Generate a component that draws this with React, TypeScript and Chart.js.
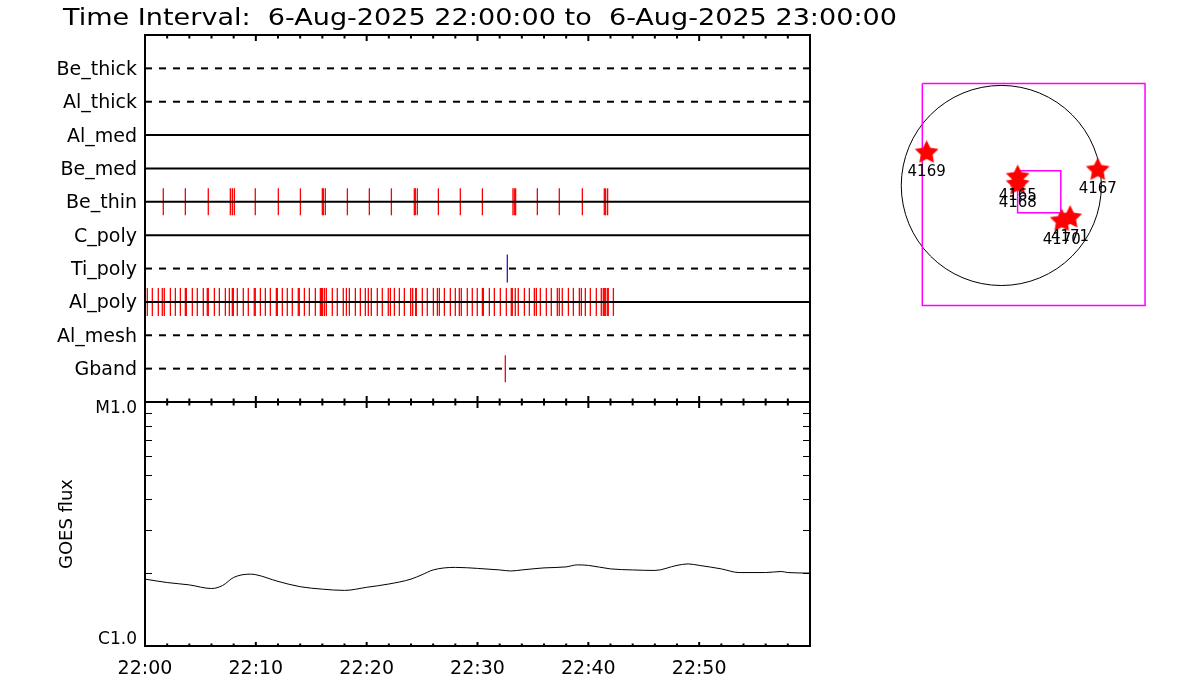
import React, { useEffect, useRef } from 'react';
import { Chart, registerables } from 'chart.js';

Chart.register(...registerables);

const FONT = '"DejaVu Sans", sans-serif';

// ---------- data ----------
const titleText = 'Time Interval:  6-Aug-2025 22:00:00 to  6-Aug-2025 23:00:00';

const filterNames = ['Be_thick', 'Al_thick', 'Al_med', 'Be_med', 'Be_thin', 'C_poly', 'Ti_poly', 'Al_poly', 'Al_mesh', 'Gband'];
const filterDashed = [true, true, false, false, false, false, true, false, true, true];

// event times in minutes after 22:00
const beThinTimes = [1.65, 3.64, 5.71, 7.70, 7.88, 8.06, 9.95, 12.03, 14.02, 16.0, 16.09, 16.27, 18.26, 20.24, 22.23, 24.30, 24.39, 24.57, 26.47, 28.45, 30.44, 33.20, 33.32, 33.44, 35.40, 37.38, 39.46, 41.44, 41.56, 41.74];
const alPolyTimes = [0.21, 0.66, 1.20, 1.56, 1.74, 2.29, 2.74, 3.19, 3.64, 3.73, 4.27, 4.72, 5.26, 5.62, 5.71, 6.26, 6.71, 7.25, 7.61, 7.88, 7.97, 8.33, 8.87, 9.32, 9.86, 9.95, 10.41, 10.86, 11.31, 11.85, 11.94, 12.39, 12.84, 13.29, 13.83, 13.92, 14.38, 14.83, 15.37, 15.82, 15.91, 16.00, 16.18, 16.36, 16.90, 17.35, 17.89, 18.17, 18.44, 18.98, 19.43, 19.88, 20.15, 20.42, 20.96, 21.41, 21.95, 22.14, 22.50, 22.95, 23.40, 23.97, 24.15, 24.42, 24.48, 25.02, 25.47, 26.02, 26.38, 26.56, 27.01, 27.55, 28.00, 28.36, 28.54, 29.08, 29.53, 29.98, 30.44, 30.53, 31.07, 31.52, 32.06, 32.60, 33.05, 33.14, 33.41, 33.68, 34.23, 34.68, 35.13, 35.31, 35.67, 36.21, 36.66, 37.20, 37.38, 37.65, 38.20, 38.65, 39.19, 39.37, 39.73, 40.18, 40.72, 41.17, 41.35, 41.44, 41.53, 41.71, 41.80, 42.26];
const tiPolyTimes = [32.69];
const gbandTimes = [32.51];

const minuteTicks = [0, 2, 4, 6, 8, 10, 12, 14, 16, 18, 20, 22, 24, 26, 28, 30, 32, 34, 36, 38, 40, 42, 44, 46, 48, 50, 52, 54, 56, 58, 60];
const timeLabelValues = [0, 10, 20, 30, 40, 50];
const timeLabels = ['22:00', '22:10', '22:20', '22:30', '22:40', '22:50'];

const goesTimes = [0, 2, 4, 6, 7, 8, 9.5, 10, 12, 14, 16, 18, 20, 22, 24, 25, 26, 28, 30, 32, 33, 34, 36, 38, 39, 40, 42, 44, 46, 48, 49, 50, 52, 53.6, 56, 57.4, 58, 60];
const goesFlux = [1.88e-6, 1.82e-6, 1.78e-6, 1.72e-6, 1.77e-6, 1.91e-6, 1.97e-6, 1.96e-6, 1.84e-6, 1.75e-6, 1.71e-6, 1.69e-6, 1.74e-6, 1.795e-6, 1.88e-6, 1.96e-6, 2.05e-6, 2.10e-6, 2.08e-6, 2.05e-6, 2.03e-6, 2.05e-6, 2.09e-6, 2.11e-6, 2.15e-6, 2.14e-6, 2.07e-6, 2.05e-6, 2.04e-6, 2.14e-6, 2.17e-6, 2.14e-6, 2.07e-6, 2.00e-6, 2.00e-6, 2.02e-6, 2.00e-6, 1.99e-6];
const goesLabelValues = [1e-6, 1e-5];
const goesLabels = ['C1.0', 'M1.0'];
const goesMinorTicks = [2e-6, 3e-6, 4e-6, 5e-6, 6e-6, 7e-6, 8e-6, 9e-6];

// solar disk (arcsec)
const solarRadius = 950;
const fovX = [-750, 1365, 1365, -750, -750];
const fovY = [970, 970, -1140, -1140, 970];
const boxX = [155, 565, 565, 155, 155];
const boxY = [140, 140, -260, -260, 140];
const arNames = ['4165', '4167', '4168', '4169', '4170', '4171'];
const arX = [156, 916, 156, -709, 574, 653];
const arY = [90, 157, 21, 321, -328, -296];

// ---------- helpers ----------
function makeStar(r: number, color: string) {
  const c = document.createElement('canvas');
  const s = Math.ceil(r * 2 + 4);
  c.width = s;
  c.height = s;
  const g = c.getContext('2d')!;
  g.fillStyle = color;
  g.beginPath();
  for (let i = 0; i < 10; i++) {
    const ang = -Math.PI / 2 + (i * Math.PI) / 5;
    const rr = i % 2 === 0 ? r : r * 0.5;
    g.lineTo(s / 2 + rr * Math.cos(ang), s / 2 + rr * Math.sin(ang) + 1);
  }
  g.closePath();
  g.fill();
  return c;
}

const topFrame = {
  id: 'topFrame',
  afterDraw(chart: any) {
    const { ctx, chartArea: a, scales } = chart;
    const x = scales.x;
    ctx.save();
    ctx.strokeStyle = '#000';
    ctx.lineWidth = 2;
    ctx.strokeRect(a.left, a.top, a.right - a.left, a.bottom - a.top);
    ctx.beginPath();
    for (const m of minuteTicks) {
      const px = x.getPixelForValue(m);
      const len = m % 10 === 0 ? 6 : 3.5;
      ctx.moveTo(px, a.top);
      ctx.lineTo(px, a.top + len);
      ctx.moveTo(px, a.bottom);
      ctx.lineTo(px, a.bottom - len);
    }
    ctx.stroke();
    // title
    ctx.fillStyle = '#000';
    ctx.font = '23px ' + FONT;
    ctx.textBaseline = 'alphabetic';
    ctx.textAlign = 'left';
    const w = ctx.measureText(titleText).width;
    ctx.translate(63, 25);
    ctx.scale(834 / w, 1);
    ctx.fillText(titleText, 0, 0);
    ctx.restore();
  },
};

const bottomFrame = {
  id: 'bottomFrame',
  afterDraw(chart: any) {
    const { ctx, chartArea: a, scales } = chart;
    const x = scales.x;
    const y = scales.y;
    ctx.save();
    ctx.strokeStyle = '#000';
    ctx.lineWidth = 2;
    ctx.strokeRect(a.left, a.top, a.right - a.left, a.bottom - a.top);
    ctx.beginPath();
    for (const m of minuteTicks) {
      const px = x.getPixelForValue(m);
      const major = m % 10 === 0;
      ctx.moveTo(px, a.top);
      ctx.lineTo(px, a.top + (major ? 6 : 3.5));
      ctx.moveTo(px, a.bottom);
      ctx.lineTo(px, a.bottom - (major ? 4 : 2.5));
    }
    ctx.stroke();
    ctx.lineWidth = 1;
    ctx.beginPath();
    for (const v of goesMinorTicks) {
      const py = Math.round(y.getPixelForValue(v)) + 0.5;
      ctx.moveTo(a.left, py);
      ctx.lineTo(a.left + 7, py);
      ctx.moveTo(a.right, py);
      ctx.lineTo(a.right - 7, py);
    }
    ctx.stroke();
    ctx.restore();
  },
};

const diskPlugin = {
  id: 'diskPlugin',
  beforeDatasetsDraw(chart: any) {
    const { ctx, scales } = chart;
    const cx = scales.x.getPixelForValue(0);
    const cy = scales.y.getPixelForValue(0);
    const r = scales.x.getPixelForValue(solarRadius) - cx;
    ctx.save();
    ctx.strokeStyle = '#000';
    ctx.lineWidth = 1;
    ctx.beginPath();
    ctx.arc(cx, cy, r, 0, Math.PI * 2);
    ctx.stroke();
    ctx.restore();
  },
  afterDatasetsDraw(chart: any) {
    const { ctx, scales } = chart;
    ctx.save();
    ctx.fillStyle = '#000';
    ctx.font = '15px ' + FONT;
    ctx.textAlign = 'center';
    ctx.textBaseline = 'middle';
    arNames.forEach((n, i) => {
      const px = scales.x.getPixelForValue(arX[i]);
      const py = scales.y.getPixelForValue(arY[i]);
      ctx.fillText(n, px, py + 20);
    });
    ctx.restore();
  },
};

export default function App() {
  const topRef = useRef<HTMLCanvasElement>(null);
  const botRef = useRef<HTMLCanvasElement>(null);
  const diskRef = useRef<HTMLCanvasElement>(null);

  useEffect(() => {
    Chart.defaults.font.family = FONT;
    Chart.defaults.color = '#000';

    const rowOf = (name: string) => filterNames.indexOf(name) + 1;
    const lineSets = filterNames.map((name, i) => ({
      label: name,
      data: [{ x: 0, y: i + 1 }, { x: 60, y: i + 1 }],
      showLine: true,
      borderColor: '#000',
      borderWidth: 2,
      borderDash: filterDashed[i] ? [7, 7] : [],
      borderCapStyle: 'butt',
      pointRadius: 0,
      order: 0,
    }));
    const tickSet = (label: string, times: number[], row: number, color: string, r: number) => ({
      label,
      data: times.map((t) => ({ x: t, y: row })),
      showLine: false,
      pointStyle: 'line',
      pointRotation: 90,
      pointRadius: r,
      pointBorderColor: color,
      pointBackgroundColor: color,
      pointBorderWidth: 1.3,
      order: 1,
    });

    const top = new Chart(topRef.current!, {
      type: 'scatter',
      data: {
        datasets: [
          ...lineSets,
          tickSet('Be_thin events', beThinTimes, rowOf('Be_thin'), '#ff0000', 13.5),
          tickSet('Al_poly events', alPolyTimes, rowOf('Al_poly'), '#ff0000', 14),
          tickSet('Ti_poly events', tiPolyTimes, rowOf('Ti_poly'), '#2020c0', 14),
          tickSet('Gband events', gbandTimes, rowOf('Gband'), '#ff0000', 13.5),
        ] as any,
      },
      options: {
        animation: false,
        responsive: false,
        devicePixelRatio: 1,
        events: [],
        layout: { autoPadding: false, padding: { top: 35, right: 390, bottom: 28, left: 0 } },
        plugins: { legend: { display: false }, tooltip: { enabled: false }, title: { display: false } },
        scales: {
          x: { type: 'linear', min: 0, max: 60, display: false },
          y: {
            type: 'linear',
            min: 0,
            max: 11,
            reverse: true,
            position: 'left',
            grid: { display: false, drawTicks: false },
            border: { display: false },
            afterBuildTicks: (s: any) => {
              s.ticks = filterNames.map((_, i) => ({ value: i + 1 }));
            },
            afterFit: (s: any) => {
              s.width = 145;
            },
            ticks: {
              padding: 8,
              labelOffset: 1.5,
              color: '#000',
              font: { size: 19, family: FONT },
              callback: (v: any) => filterNames[Math.round(Number(v)) - 1] ?? '',
            },
          },
        },
      } as any,
      plugins: [topFrame],
    });

    const bottom = new Chart(botRef.current!, {
      type: 'scatter',
      data: {
        datasets: [
          {
            label: 'GOES flux',
            data: goesTimes.map((t, i) => ({ x: t, y: goesFlux[i] })),
            showLine: true,
            borderColor: '#000',
            borderWidth: 1,
            pointRadius: 0,
            cubicInterpolationMode: 'monotone',
          },
        ] as any,
      },
      options: {
        animation: false,
        responsive: false,
        devicePixelRatio: 1,
        events: [],
        layout: { autoPadding: false, padding: { top: 22, right: 390, bottom: 0, left: 0 } },
        plugins: { legend: { display: false }, tooltip: { enabled: false } },
        scales: {
          x: {
            type: 'linear',
            min: 0,
            max: 60,
            position: 'bottom',
            grid: { display: false },
            border: { display: false },
            afterBuildTicks: (s: any) => {
              s.ticks = timeLabelValues.map((v) => ({ value: v }));
            },
            afterFit: (s: any) => {
              s.height = 54;
            },
            ticks: {
              padding: 4,
              color: '#000',
              maxRotation: 0,
              autoSkip: false,
              font: { size: 19, family: FONT },
              callback: (_v: any, i: number) => timeLabels[i],
            },
          },
          y: {
            type: 'logarithmic',
            min: 1e-6,
            max: 1e-5,
            position: 'left',
            grid: { display: false, drawTicks: false },
            border: { display: false },
            afterBuildTicks: (s: any) => {
              s.ticks = goesLabelValues.map((v) => ({ value: v }));
            },
            afterFit: (s: any) => {
              s.width = 145;
            },
            title: {
              display: true,
              text: 'GOES flux',
              color: '#000',
              font: { size: 18, family: FONT },
              padding: { top: 57, bottom: 0 },
            },
            ticks: {
              padding: 8,
              color: '#000',
              font: { size: 17, family: FONT, lineHeight: 0.76 },
              callback: (_v: any, i: number) => (i === 0 ? [goesLabels[0], ''] : ['', goesLabels[1]]),
            },
          },
        },
      } as any,
      plugins: [bottomFrame],
    });

    const star = makeStar(12.5, '#ff0000');
    const disk = new Chart(diskRef.current!, {
      type: 'scatter',
      data: {
        datasets: [
          {
            label: 'Active regions',
            data: arX.map((x, i) => ({ x, y: arY[i] })),
            showLine: false,
            pointStyle: star,
            pointRadius: 12,
            clip: false,
            order: 0,
          },
          {
            label: 'FOV',
            data: fovX.map((x, i) => ({ x, y: fovY[i] })),
            showLine: true,
            borderColor: '#ff00ff',
            borderWidth: 1.5,
            pointRadius: 0,
            clip: false,
            order: 1,
          },
          {
            label: 'Box',
            data: boxX.map((x, i) => ({ x, y: boxY[i] })),
            showLine: true,
            borderColor: '#ff00ff',
            borderWidth: 1.5,
            pointRadius: 0,
            order: 1,
          },
        ] as any,
      },
      options: {
        animation: false,
        responsive: false,
        devicePixelRatio: 1,
        events: [],
        layout: { autoPadding: false, padding: 0 },
        plugins: { legend: { display: false }, tooltip: { enabled: false } },
        scales: {
          x: { type: 'linear', min: -1000, max: 1450, display: false },
          y: { type: 'linear', min: -1250, max: 1050, display: false },
        },
      } as any,
      plugins: [diskPlugin],
    });

    return () => {
      top.destroy();
      bottom.destroy();
      disk.destroy();
    };
  }, []);

  return (
    <div style={{ position: 'absolute', left: 0, top: 0, width: 1200, height: 700, background: '#fff', overflow: 'hidden' }}>
      <canvas ref={topRef} width={1200} height={430} style={{ position: 'absolute', left: 0, top: 0 }} />
      <canvas ref={botRef} width={1200} height={320} style={{ position: 'absolute', left: 0, top: 380 }} />
      <canvas ref={diskRef} width={258} height={242} style={{ position: 'absolute', left: 896, top: 75 }} />
    </div>
  );
}
